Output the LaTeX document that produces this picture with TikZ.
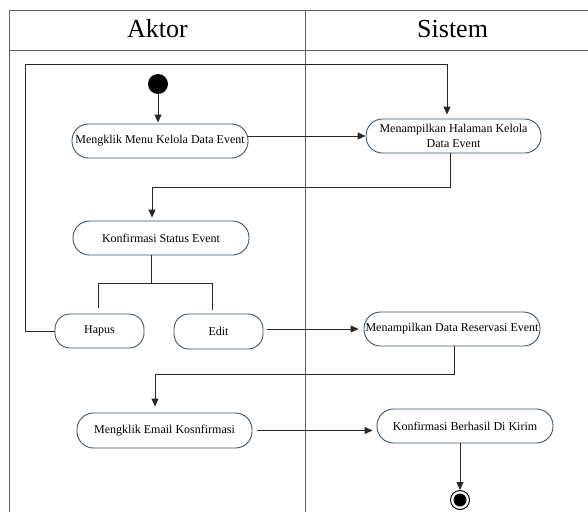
\documentclass[tikz,border=0pt]{standalone}
\usepackage{fontspec}
\setmainfont{Liberation Serif}
\usetikzlibrary{arrows.meta,calc}
\definecolor{nodeblue}{RGB}{62,84,100}
\definecolor{linegray}{RGB}{40,40,40}
\definecolor{framegray}{RGB}{95,95,95}
\begin{document}
\begin{tikzpicture}[x=1pt,y=-1pt,
  act/.style={draw=nodeblue, line width=0.9pt, rounded corners=16.5pt, minimum height=34pt, inner sep=0pt, align=center, font=\fontsize{12}{15}\selectfont, fill=white},
  flow/.style={draw=linegray, line width=0.9pt},
  arr/.style={flow, -{Triangle[length=8pt,width=7pt]}},
  lane/.style={draw=framegray, line width=0.8pt},
  hdr/.style={font=\fontsize{26}{30}\selectfont}]
\useasboundingbox (0,0) rectangle (588,512);
% frame
\draw[lane] (9.5,512) -- (9.5,10.5) -- (588,10.5);
\draw[lane] (9.5,50.5) -- (588,50.5);
\draw[lane] (305,10.5) -- (305,512);
\node[hdr] (aktor) at (157.5,29) {Aktor};
\node[hdr] (sistem) at (452.6,29) {Sistem};
% nodes
\node[circle, fill=black, minimum size=20pt, inner sep=0pt] (start) at (158,84) {};
\node[act, minimum width=176pt] (m1) at (160,141) {Mengklik Menu Kelola Data Event};
\node[act, minimum width=175pt] (s1) at (453.5,136) {Menampilkan Halaman Kelola\\Data Event};
\node[act, minimum width=176pt] (k1) at (161,238) {Konfirmasi Status Event};
\node[act, minimum width=89pt, rounded corners=15pt] (hapus) at (99.5,331) {Hapus};
\node[act, minimum width=89pt, minimum height=35pt, rounded corners=15pt] (edit) at (218.5,331.5) {Edit};
\node[act, minimum width=176pt] (s2) at (452,329) {Menampilkan Data Reservasi Event};
\node[act, minimum width=175pt, minimum height=35pt] (m2) at (164.5,430.5) {Mengklik Email Kosnfirmasi};
\node[act, minimum width=176pt] (s3) at (465,426) {Konfirmasi Berhasil Di Kirim};
\node[circle, draw=black, line width=1pt, fill=white, minimum size=19pt, inner sep=0pt] (end) at (460,500) {};
\node[circle, fill=black, minimum size=13pt, inner sep=0pt] (endin) at (end) {};
% coordinates
\coordinate (b1) at (450,187);
\coordinate (b2) at (152,187);
\coordinate (br) at (151,283);
\coordinate (brl) at (98,283);
\coordinate (brr) at (212,283);
\coordinate (hl) at (98,308);
\coordinate (er) at (212,310);
\coordinate (l2) at (25,64.5);
\coordinate (l3) at (447,64.5);
\coordinate (c1) at (454.5,374);
\coordinate (c2) at (155,374);
% connectors
\draw[arr, shorten >=1pt] (start.south) -- (start |- m1.north);
\draw[arr] (s1.west -| m1.east) -- (s1.west);
\draw[arr, shorten >=3pt] (s1.south -| b1) -- (b1) -- (b2) -- (b2 |- k1.north);
\draw[flow] (k1.south -| br) -- (br);
\draw[flow] (hl) -- (brl) -- (brr) -- (er);
\draw[arr, shorten >=4pt] (hapus.west) -- (hapus.west -| l2) -- (l2) -- (l3) -- (l3 |- s1.north);
\draw[arr, shorten <=4pt, shorten >=5pt] (s2.west -| edit.east) -- (s2.west);
\draw[arr, shorten >=6pt] (s2.south -| c1) -- (c1) -- (c2) -- (c2 |- m2.north);
\draw[arr, shorten <=5pt, shorten >=4pt] (m2.east) -- (m2.east -| s3.west);
\draw[arr] (s3.south -| end) -- (end.north);
\end{tikzpicture}
\end{document}
